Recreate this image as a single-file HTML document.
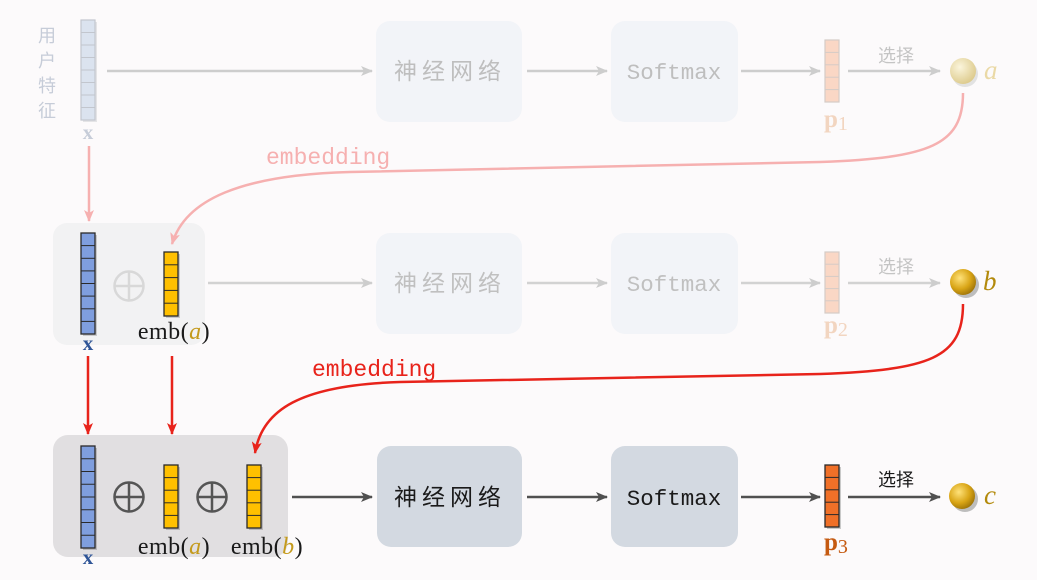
<!DOCTYPE html>
<html><head><meta charset="utf-8"><style>
html,body{margin:0;padding:0;background:#fcfafb;}
svg{display:block;}
.cjk{font-family:"Liberation Sans","Noto Sans CJK SC",sans-serif;}
.mono{font-family:"Liberation Mono","DejaVu Sans Mono",monospace;}
.serif{font-family:"Liberation Serif","DejaVu Serif",serif;}
</style></head><body>
<svg width="1037" height="580" viewBox="0 0 1037 580" xmlns="http://www.w3.org/2000/svg">
<defs>
<marker id="mg" viewBox="0 0 12 10" refX="11" refY="5" markerWidth="12" markerHeight="10" markerUnits="userSpaceOnUse" orient="auto"><path d="M0,0 L12,5 L0,10 L3,5 z" fill="#cdcdcd"/></marker>
<marker id="md" viewBox="0 0 12 10" refX="11" refY="5" markerWidth="12" markerHeight="10" markerUnits="userSpaceOnUse" orient="auto"><path d="M0,0 L12,5 L0,10 L3,5 z" fill="#505050"/></marker>
<marker id="mp" viewBox="0 0 12 10" refX="11" refY="5" markerWidth="12" markerHeight="10" markerUnits="userSpaceOnUse" orient="auto"><path d="M0,0 L12,5 L0,10 L3,5 z" fill="#f6b0b0"/></marker>
<marker id="mr" viewBox="0 0 12 10" refX="11" refY="5" markerWidth="12" markerHeight="10" markerUnits="userSpaceOnUse" orient="auto"><path d="M0,0 L12,5 L0,10 L3,5 z" fill="#e8231b"/></marker>
<radialGradient id="ga" cx="0.38" cy="0.35" r="0.7"><stop offset="0" stop-color="#fbf5dc"/><stop offset="1" stop-color="#dcc98a"/></radialGradient>
<radialGradient id="gb" cx="0.38" cy="0.35" r="0.7"><stop offset="0" stop-color="#ffe27a"/><stop offset="0.6" stop-color="#d9a516"/><stop offset="1" stop-color="#9c7208"/></radialGradient>
</defs>

<!-- ===== TOP ROW ===== -->
<g class="cjk" font-size="18" fill="#c6ccd8" text-anchor="middle">
<text x="47" y="42">用</text><text x="47" y="67">户</text><text x="47" y="92">特</text><text x="47" y="117">征</text>
</g>
<rect x="83" y="22" width="14" height="100" fill="#e4e4e6"/>
<rect x="81" y="20" width="14" height="100" fill="#dbe3ef" stroke="#c2c6ce" stroke-width="1.2"/>
<g stroke="#c2c6ce" stroke-width="1"><line x1="81" x2="95" y1="32.5" y2="32.5"/><line x1="81" x2="95" y1="45" y2="45"/><line x1="81" x2="95" y1="57.5" y2="57.5"/><line x1="81" x2="95" y1="70" y2="70"/><line x1="81" x2="95" y1="82.5" y2="82.5"/><line x1="81" x2="95" y1="95" y2="95"/><line x1="81" x2="95" y1="107.5" y2="107.5"/></g>
<text x="88" y="139" class="serif" font-weight="bold" font-size="21" fill="#c6ccd8" text-anchor="middle">x</text>

<g stroke="#cdcdcd" stroke-width="2.5" fill="none">
<line x1="107" y1="71" x2="372" y2="71" marker-end="url(#mg)"/>
<line x1="527" y1="71" x2="607" y2="71" marker-end="url(#mg)"/>
<line x1="741" y1="71" x2="820" y2="71" marker-end="url(#mg)"/>
<line x1="848" y1="71" x2="940" y2="71" marker-end="url(#mg)"/>
</g>
<rect x="376" y="21" width="146" height="101" rx="14" fill="#f2f4f8"/>
<rect x="611" y="21" width="127" height="101" rx="14" fill="#f2f4f8"/>
<text x="450" y="79" class="cjk" font-size="23" letter-spacing="5" fill="#bebebe" text-anchor="middle">神经网络</text>
<text x="674" y="79" class="mono" font-size="22.5" fill="#bebebe" text-anchor="middle">Softmax</text>

<rect x="825" y="40" width="14" height="62" fill="#fad7c5" stroke="#d5cbc6" stroke-width="1.2"/>
<g stroke="#d5cbc6" stroke-width="1"><line x1="825" x2="839" y1="52.4" y2="52.4"/><line x1="825" x2="839" y1="64.8" y2="64.8"/><line x1="825" x2="839" y1="77.2" y2="77.2"/><line x1="825" x2="839" y1="89.6" y2="89.6"/></g>
<text x="824" y="127" class="serif" font-weight="bold" font-size="25" fill="#f2d5c0">p<tspan font-size="20" font-weight="normal" dy="3">1</tspan></text>
<text x="896" y="62" class="cjk" font-size="18" fill="#c4c4c4" text-anchor="middle">选择</text>
<circle cx="965" cy="74" r="13" fill="#e2e2e2"/>
<circle cx="963" cy="71" r="13" fill="url(#ga)"/>
<text x="984" y="79" class="serif" font-style="italic" font-size="27" fill="#ead9a6">a</text>

<text x="266" y="164" class="mono" font-size="23" fill="#f6b0b0">embedding</text>
<line x1="89" y1="146" x2="89" y2="221" stroke="#f6b0b0" stroke-width="2.5" marker-end="url(#mp)"/>

<!-- ===== MIDDLE ROW ===== -->
<rect x="53" y="223" width="152" height="122" rx="14" fill="#f2f2f3"/>
<rect x="83" y="235" width="14" height="101" fill="#c9c9cb"/>
<rect x="81" y="233" width="14" height="101" fill="#7f9ede" stroke="#2a2a2a" stroke-width="1.3"/>
<g stroke="#2a2a2a" stroke-width="1"><line x1="81" x2="95" y1="245.6" y2="245.6"/><line x1="81" x2="95" y1="258.3" y2="258.3"/><line x1="81" x2="95" y1="270.9" y2="270.9"/><line x1="81" x2="95" y1="283.5" y2="283.5"/><line x1="81" x2="95" y1="296.1" y2="296.1"/><line x1="81" x2="95" y1="308.8" y2="308.8"/><line x1="81" x2="95" y1="321.4" y2="321.4"/></g>
<text x="88" y="350" class="serif" font-weight="bold" font-size="21" fill="#2f5597" text-anchor="middle">x</text>
<g stroke="#d8d8d8" stroke-width="2.5" fill="none"><circle cx="129" cy="286" r="14.5"/><line x1="114.5" y1="286" x2="143.5" y2="286"/><line x1="129" y1="271.5" x2="129" y2="300.5"/></g>
<rect x="166" y="254" width="14" height="64" fill="#c9c9cb"/>
<rect x="164" y="252" width="14" height="64" fill="#ffc000" stroke="#2a2a2a" stroke-width="1.3"/>
<g stroke="#2a2a2a" stroke-width="1"><line x1="164" x2="178" y1="264.8" y2="264.8"/><line x1="164" x2="178" y1="277.6" y2="277.6"/><line x1="164" x2="178" y1="290.4" y2="290.4"/><line x1="164" x2="178" y1="303.2" y2="303.2"/></g>
<text x="174" y="339" class="serif" font-size="24" fill="#1a1a1a" text-anchor="middle" letter-spacing="0.5">emb(<tspan font-style="italic" fill="#c49a1c">a</tspan>)</text>

<g stroke="#d2d2d2" stroke-width="2.5" fill="none">
<line x1="208" y1="283" x2="372" y2="283" marker-end="url(#mg)"/>
<line x1="527" y1="283" x2="607" y2="283" marker-end="url(#mg)"/>
<line x1="741" y1="283" x2="820" y2="283" marker-end="url(#mg)"/>
<line x1="848" y1="283" x2="940" y2="283" marker-end="url(#mg)"/>
</g>
<rect x="376" y="233" width="146" height="101" rx="14" fill="#f2f4f8"/>
<rect x="611" y="233" width="127" height="101" rx="14" fill="#f2f4f8"/>
<text x="450" y="291" class="cjk" font-size="23" letter-spacing="5" fill="#c0c0c0" text-anchor="middle">神经网络</text>
<text x="674" y="291" class="mono" font-size="22.5" fill="#c0c0c0" text-anchor="middle">Softmax</text>

<rect x="825" y="252" width="14" height="61" fill="#fad7c5" stroke="#d5cbc6" stroke-width="1.2"/>
<g stroke="#d5cbc6" stroke-width="1"><line x1="825" x2="839" y1="264.2" y2="264.2"/><line x1="825" x2="839" y1="276.4" y2="276.4"/><line x1="825" x2="839" y1="288.6" y2="288.6"/><line x1="825" x2="839" y1="300.8" y2="300.8"/></g>
<text x="824" y="333" class="serif" font-weight="bold" font-size="25" fill="#f2d5c0">p<tspan font-size="20" font-weight="normal" dy="3">2</tspan></text>
<text x="896" y="273" class="cjk" font-size="18" fill="#c4c4c4" text-anchor="middle">选择</text>
<circle cx="966" cy="285" r="13" fill="#bdbdbd"/>
<circle cx="963" cy="282" r="13" fill="url(#gb)"/>
<text x="983" y="290" class="serif" font-style="italic" font-size="27" fill="#b38a0c">b</text>

<text x="312" y="376" class="mono" font-size="23" fill="#e8231b">embedding</text>
<line x1="88" y1="356" x2="88" y2="434" stroke="#e8231b" stroke-width="2.5" marker-end="url(#mr)"/>
<line x1="172" y1="356" x2="172" y2="434" stroke="#e8231b" stroke-width="2.5" marker-end="url(#mr)"/>

<!-- ===== BOTTOM ROW ===== -->
<rect x="53" y="435" width="235" height="122" rx="15" fill="#e1dfe1"/>
<rect x="83" y="448" width="14" height="102" fill="#b9b7ba"/>
<rect x="81" y="446" width="14" height="102" fill="#7f9ede" stroke="#2a2a2a" stroke-width="1.3"/>
<g stroke="#2a2a2a" stroke-width="1"><line x1="81" x2="95" y1="458.75" y2="458.75"/><line x1="81" x2="95" y1="471.5" y2="471.5"/><line x1="81" x2="95" y1="484.25" y2="484.25"/><line x1="81" x2="95" y1="497" y2="497"/><line x1="81" x2="95" y1="509.75" y2="509.75"/><line x1="81" x2="95" y1="522.5" y2="522.5"/><line x1="81" x2="95" y1="535.25" y2="535.25"/></g>
<text x="88" y="564" class="serif" font-weight="bold" font-size="21" fill="#2f5597" text-anchor="middle">x</text>
<g stroke="#555" stroke-width="2.5" fill="none">
<circle cx="129" cy="497" r="14.5"/><line x1="114.5" y1="497" x2="143.5" y2="497"/><line x1="129" y1="482.5" x2="129" y2="511.5"/>
<circle cx="212" cy="497" r="14.5"/><line x1="197.5" y1="497" x2="226.5" y2="497"/><line x1="212" y1="482.5" x2="212" y2="511.5"/>
</g>
<rect x="166" y="467" width="14" height="63" fill="#b9b7ba"/>
<rect x="164" y="465" width="14" height="63" fill="#ffc000" stroke="#2a2a2a" stroke-width="1.3"/>
<g stroke="#2a2a2a" stroke-width="1"><line x1="164" x2="178" y1="477.6" y2="477.6"/><line x1="164" x2="178" y1="490.2" y2="490.2"/><line x1="164" x2="178" y1="502.8" y2="502.8"/><line x1="164" x2="178" y1="515.4" y2="515.4"/></g>
<rect x="249" y="467" width="14" height="63" fill="#b9b7ba"/>
<rect x="247" y="465" width="14" height="63" fill="#ffc000" stroke="#2a2a2a" stroke-width="1.3"/>
<g stroke="#2a2a2a" stroke-width="1"><line x1="247" x2="261" y1="477.6" y2="477.6"/><line x1="247" x2="261" y1="490.2" y2="490.2"/><line x1="247" x2="261" y1="502.8" y2="502.8"/><line x1="247" x2="261" y1="515.4" y2="515.4"/></g>
<text x="174" y="554" class="serif" font-size="24" fill="#1a1a1a" text-anchor="middle" letter-spacing="0.5">emb(<tspan font-style="italic" fill="#c49a1c">a</tspan>)</text>
<text x="267" y="554" class="serif" font-size="24" fill="#1a1a1a" text-anchor="middle" letter-spacing="0.5">emb(<tspan font-style="italic" fill="#c49a1c">b</tspan>)</text>

<g stroke="#505050" stroke-width="2.5" fill="none">
<line x1="292" y1="497" x2="372" y2="497" marker-end="url(#md)"/>
<line x1="527" y1="497" x2="607" y2="497" marker-end="url(#md)"/>
<line x1="741" y1="497" x2="820" y2="497" marker-end="url(#md)"/>
<line x1="848" y1="497" x2="940" y2="497" marker-end="url(#md)"/>
</g>
<rect x="377" y="446" width="145" height="101" rx="14" fill="#d3d9e1"/>
<rect x="611" y="446" width="127" height="101" rx="14" fill="#d3d9e1"/>
<text x="450" y="505" class="cjk" font-size="23" letter-spacing="5" fill="#1a1a1a" text-anchor="middle">神经网络</text>
<text x="674" y="505" class="mono" font-size="22.5" fill="#1a1a1a" text-anchor="middle">Softmax</text>

<rect x="827" y="467" width="14" height="62" fill="#c9c9c9"/>
<rect x="825" y="465" width="14" height="62" fill="#f07028" stroke="#2a2a2a" stroke-width="1.3"/>
<g stroke="#2a2a2a" stroke-width="1"><line x1="825" x2="839" y1="477.4" y2="477.4"/><line x1="825" x2="839" y1="489.8" y2="489.8"/><line x1="825" x2="839" y1="502.2" y2="502.2"/><line x1="825" x2="839" y1="514.6" y2="514.6"/></g>
<text x="824" y="550" class="serif" font-weight="bold" font-size="25" fill="#c55a11">p<tspan font-size="20" font-weight="normal" dy="3">3</tspan></text>
<text x="896" y="486" class="cjk" font-size="18" fill="#1a1a1a" text-anchor="middle">选择</text>
<circle cx="965" cy="499" r="13" fill="#bdbdbd"/>
<circle cx="962" cy="496" r="13" fill="url(#gb)"/>
<text x="984" y="504" class="serif" font-style="italic" font-size="27" fill="#b38a0c">c</text>

<!-- curves on top -->
<path d="M963,93 C963,145 930,158 820,162 L350,172 C240,175 185,200 172,244" stroke="#f6b0b0" stroke-width="2.5" fill="none" marker-end="url(#mp)"/>
<path d="M963,304 C963,358 930,370 820,374 L400,382 C300,385 262,410 255,453" stroke="#e8231b" stroke-width="2.5" fill="none" marker-end="url(#mr)"/>
</svg>
</body></html>
